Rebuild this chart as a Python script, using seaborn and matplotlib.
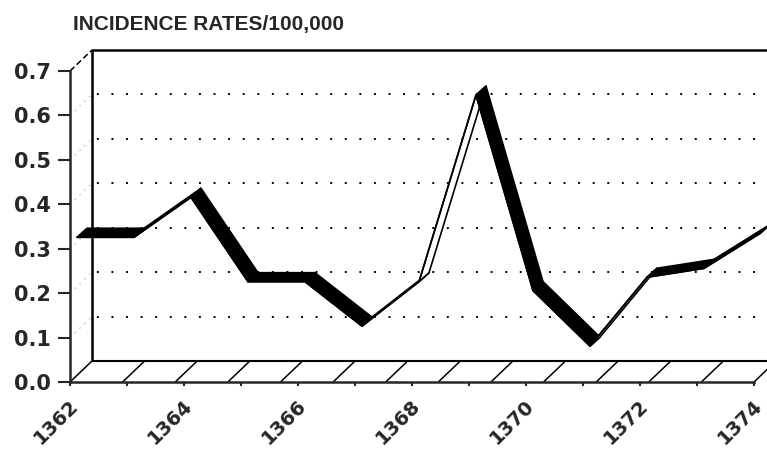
import numpy as np
import seaborn as sns
import matplotlib.pyplot as plt
import matplotlib.transforms as mtrans
from matplotlib.patches import Polygon

# data
years = [1362, 1363, 1364, 1365, 1366, 1367, 1368, 1369, 1370, 1371, 1372, 1373, 1374]
rates = [0.31, 0.31, 0.40, 0.21, 0.21, 0.11, 0.21, 0.63, 0.19, 0.065, 0.22, 0.24, 0.32]
year_ticks = list(range(1362, 1375, 2))
rate_ticks = [0.0, 0.1, 0.2, 0.3, 0.4, 0.5, 0.6, 0.7]
rate_labels = ['0.0', '0.1', '0.2', '0.3', '0.4', '0.5', '0.6', '0.7']
grid_levels = [0.1, 0.2, 0.3, 0.4, 0.5, 0.6]
title = 'INCIDENCE RATES/100,000'

sns.set_style('ticks')
plt.rcParams['font.family'] = ['DejaVu Sans']

fig = plt.figure(figsize=(7.67, 4.49), dpi=100)
ax = fig.add_axes([70 / 767, 67 / 449, 684 / 767, 311 / 449])
ax.set_xlim(1362, 1374)
ax.set_ylim(0, 0.7)

# pixel -> data conversion for the fake 3d depth
p0 = ax.transData.transform((1362, 0))
p1 = ax.transData.transform((1363, 0.1))
px_year = p1[0] - p0[0]
px_unit = (p1[1] - p0[1]) / 0.1


def off(px, py):
    return px / px_year, py / px_unit


wall = (22, 21)        # depth of back wall, px
rib_front = (7, 7)     # ribbon front edge offset, px
rib_depth = (10, 9)    # ribbon thickness, px
wx, wy = off(*wall)
x0, x1 = years[0], years[-1]

line_kw = dict(color='black', clip_on=False, solid_capstyle='butt')

# back wall
ax.plot([x0 + wx, x0 + wx, x1 + wx], [wy, 0.7 + wy, 0.7 + wy], lw=1.8, **line_kw)
ax.plot([x0 + wx, x1 + wx], [wy, wy], lw=1.5, **line_kw)
for v in grid_levels:
    ax.plot([x0 + wx, x1 + wx], [v + wy, v + wy], lw=1.4, ls=(5, (1, 6.5)), **line_kw)
    ax.plot([x0, x0 + wx], [v, v + wy], lw=0.8, ls=(0, (1, 5)), color='#999999', clip_on=False)

# floor hatching
for h in np.linspace(x0, x1, 14):
    ax.plot([h, h + wx], [0, wy], lw=1.1, **line_kw)
ax.plot([x0, x0 + wx], [0.7, 0.7 + wy], lw=1.1, ls=(0, (4, 2)), **line_kw)

# ribbon
fx, fy = off(*rib_front)
bx, by = off(rib_front[0] + rib_depth[0], rib_front[1] + rib_depth[1])
for i in range(len(years) - 1):
    xa, xb = years[i], years[i + 1]
    ya, yb = rates[i], rates[i + 1]
    slope = (yb - ya) * px_unit / ((xb - xa) * px_year)
    face = 'black' if slope < rib_depth[1] / rib_depth[0] else 'white'
    poly = [(xa + fx, ya + fy), (xb + fx, yb + fy), (xb + bx, yb + by), (xa + bx, ya + by)]
    ax.add_patch(Polygon(poly, closed=True, fc=face, ec='black', lw=1.2,
                         joinstyle='round', clip_on=False, zorder=3))

front = mtrans.offset_copy(ax.transData, fig=fig, x=rib_front[0], y=rib_front[1], units='dots')
sns.lineplot(x=years, y=rates, ax=ax, color='black', lw=1.2, transform=front,
             clip_on=False, zorder=4)

ax.set_xlim(1362, 1374)
ax.set_ylim(0, 0.7)
ax.set(xlabel='', ylabel='')
sns.despine(ax=ax)
for s in ['left', 'bottom']:
    ax.spines[s].set_linewidth(1.8)

ax.set_yticks(rate_ticks)
ax.set_yticklabels(rate_labels, fontsize=15, fontweight='bold')
ax.tick_params(axis='y', direction='out', length=8.5, width=1.5, pad=5)
ax.set_xticks(years, minor=True)
ax.set_xticks(year_ticks)
ax.set_xticklabels([str(y) for y in year_ticks], fontsize=14, fontweight='bold',
                   rotation=45, ha='right', va='top')
ax.tick_params(axis='x', which='both', direction='out', length=3, width=1.5, pad=7)
shift = mtrans.ScaledTranslation(12 / 100, 0, fig.dpi_scale_trans)
for lab in ax.get_xticklabels():
    lab.set_transform(lab.get_transform() + shift)

fig.text(73 / 767, 1 - 30 / 449, title, ha='left', va='baseline',
         fontsize=15, fontweight='bold', family=['Liberation Sans', 'DejaVu Sans'])

fig.savefig('out.png', dpi=100)
